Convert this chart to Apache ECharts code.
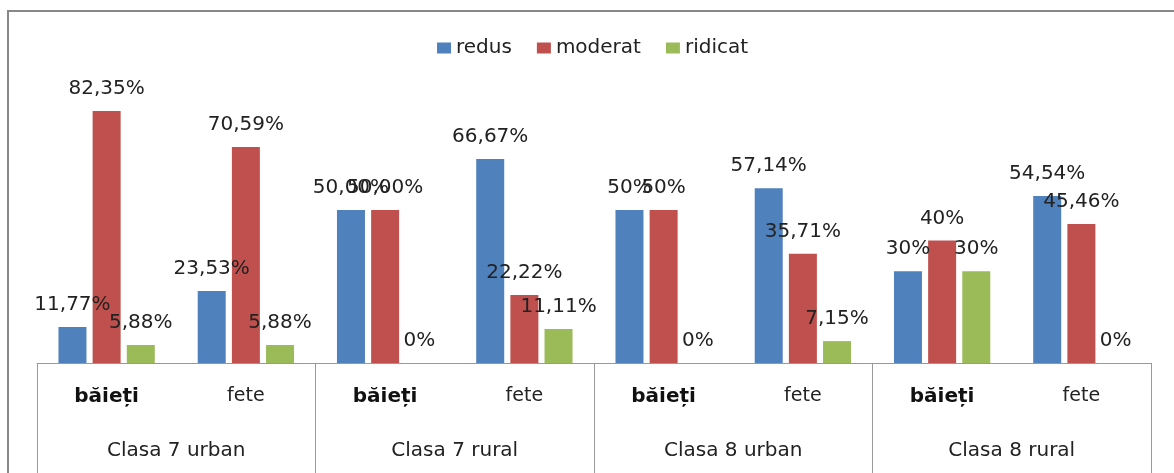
<!DOCTYPE html>
<html>
<head>
<meta charset="utf-8">
<script src="https://cdn.jsdelivr.net/npm/echarts@6/dist/echarts.min.js"></script>
<style>
  html, body { margin: 0; padding: 0; background: #fff; }
  #chart { width: 1174px; height: 473px; }
</style>
</head>
<body>
<div id="chart"></div>
<script>
// categories (inner and outer level)
var subCats = ['băieți', 'fete', 'băieți', 'fete', 'băieți', 'fete', 'băieți', 'fete'];
var groups = ['Clasa 7 urban', 'Clasa 7 rural', 'Clasa 8 urban', 'Clasa 8 rural'];

// series values (%)
var redus = [11.77, 23.53, 50.00, 66.67, 50, 57.14, 30, 54.54];
var moderat = [82.35, 70.59, 50.00, 22.22, 50, 35.71, 40, 45.46];
var ridicat = [5.88, 5.88, 0, 11.11, 0, 7.15, 30, 0];

// label texts as printed on the chart
var redusLbl = ['11,77%', '23,53%', '50,00%', '66,67%', '50%', '57,14%', '30%', '54,54%'];
var moderatLbl = ['82,35%', '70,59%', '50,00%', '22,22%', '50%', '35,71%', '40%', '45,46%'];
var ridicatLbl = ['5,88%', '5,88%', '0%', '11,11%', '0%', '7,15%', '30%', '0%'];

var font = 'DejaVu Sans';
var chart = echarts.init(document.getElementById('chart'));

function mkSeries(name, data, labels, color) {
  return {
    name: name,
    type: 'bar',
    data: data,
    barWidth: 28,
    barGap: '22%',
    itemStyle: { color: color },
    label: {
      show: true,
      position: 'top',
      distance: 12,
      fontFamily: font,
      fontSize: 20,
      color: '#222',
      formatter: function (p) { return labels[p.dataIndex]; }
    }
  };
}

var option = {
  animation: false,
  graphic: [{
    type: 'rect',
    shape: { x: 8, y: 11, width: 1200, height: 500 },
    style: { fill: 'none', stroke: '#888', lineWidth: 2 }
  }],
  legend: {
    top: 33,
    left: 432,
    itemWidth: 14,
    itemHeight: 11,
    itemGap: 25,
    icon: 'rect',
    textStyle: { fontFamily: font, fontSize: 20, color: '#222' },
    data: ['redus', 'moderat', 'ridicat']
  },
  grid: { left: 37, right: 23, top: 57, bottom: 110 },
  xAxis: [{
    type: 'category',
    data: subCats,
    position: 'bottom',
    axisLine: { show: true, lineStyle: { color: '#999', width: 1 } },
    axisTick: { show: false },
    axisLabel: {
      margin: 24,
      interval: 0,
      formatter: function (v) { return v === 'băieți' ? '{b|' + v + '}' : '{n|' + v + '}'; },
      rich: {
        b: { fontFamily: font, fontSize: 20, fontWeight: 'bold', color: '#111' },
        n: { fontFamily: font, fontSize: 19, color: '#222' }
      }
    }
  }, {
    type: 'category',
    data: groups,
    position: 'bottom',
    axisLine: { show: false },
    axisTick: { show: true, length: 112, lineStyle: { color: '#999', width: 1 } },
    axisLabel: {
      margin: 78,
      interval: 0,
      fontFamily: font,
      fontSize: 20,
      color: '#222'
    }
  }],
  yAxis: {
    type: 'value',
    min: 0,
    max: 100,
    show: false,
    splitLine: { show: false }
  },
  series: [
    mkSeries('redus', redus, redusLbl, '#4F81BD'),
    mkSeries('moderat', moderat, moderatLbl, '#C0504D'),
    mkSeries('ridicat', ridicat, ridicatLbl, '#9BBB59')
  ]
};
chart.setOption(option);
</script>
</body>
</html>
